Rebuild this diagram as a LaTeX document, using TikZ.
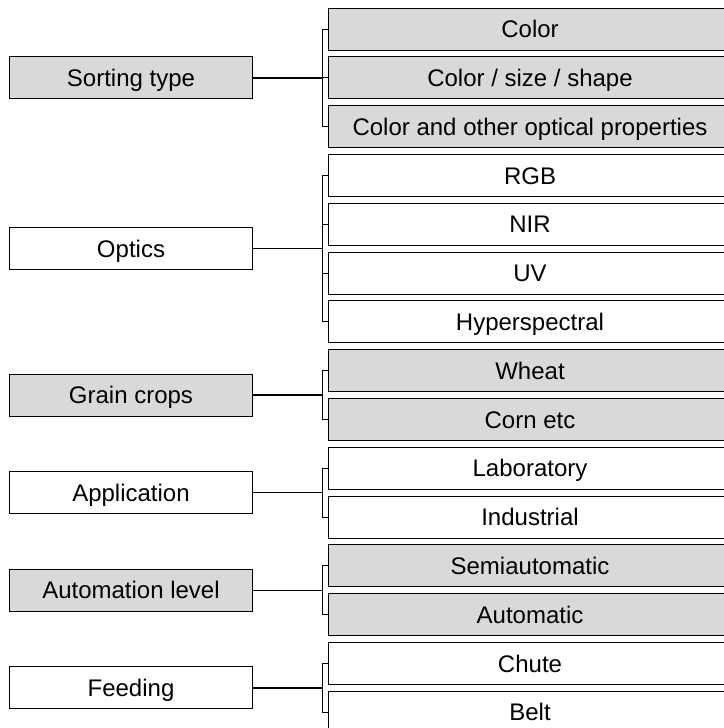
\documentclass[tikz,border=0pt]{standalone}
\usepackage{fontspec}
\setmainfont{Liberation Sans}
\definecolor{boxgray}{HTML}{D9D9D9}
\begin{document}
\begin{tikzpicture}[x=1pt,y=-1pt,
  every node/.style={font=\fontsize{24}{28}\selectfont, text height=17.2pt, text depth=0pt, inner sep=0pt},
  basebox/.style={draw=black, line width=1pt, rectangle, minimum height=42pt},
  lbox/.style={basebox, minimum width=243pt},
  rbox/.style={basebox, minimum width=404pt},
  gray/.style={fill=boxgray},
  white/.style={fill=white},
  mainline/.style={line width=1.4pt},
  brack/.style={line width=0.9pt}]
\useasboundingbox (0,0) rectangle (723,728);
\def\p{48.8}
% right boxes
\node[rbox,gray]  (r0)  at (530,{29+\p*0})  {Color};
\node[rbox,gray]  (r1)  at (530,{29+\p*1})  {Color / size / shape};
\node[rbox,gray]  (r2)  at (530,{29+\p*2})  {Color and other optical properties};
\node[rbox,white] (r3)  at (530,{29+\p*3})  {RGB};
\node[rbox,white] (r4)  at (530,{29+\p*4})  {NIR};
\node[rbox,white] (r5)  at (530,{29+\p*5})  {UV};
\node[rbox,white] (r6)  at (530,{29+\p*6})  {Hyperspectral};
\node[rbox,gray]  (r7)  at (530,{29+\p*7})  {Wheat};
\node[rbox,gray]  (r8)  at (530,{29+\p*8})  {Corn etc};
\node[rbox,white] (r9)  at (530,{29+\p*9})  {Laboratory};
\node[rbox,white] (r10) at (530,{29+\p*10}) {Industrial};
\node[rbox,gray]  (r11) at (530,{29+\p*11}) {Semiautomatic};
\node[rbox,gray]  (r12) at (530,{29+\p*12}) {Automatic};
\node[rbox,white] (r13) at (530,{29+\p*13}) {Chute};
\node[rbox,white] (r14) at (530,{29+\p*14}) {Belt};
% left boxes
\node[lbox,gray]  (sort) at (131,{29+\p*1}) {Sorting type};
\node[lbox,white] (opt)  at (131,{29+\p*4.5}) {Optics};
\node[lbox,gray]  (grain) at (131,{29+\p*7.5}) {Grain crops};
\node[lbox,white] (app)  at (131,{29+\p*9.5}) {Application};
\node[lbox,gray]  (auto) at (131,{29+\p*11.5}) {Automation level};
\node[lbox,white] (feed) at (131,{29+\p*13.5}) {Feeding};
\coordinate (bx) at (322,0);
% main connectors
\foreach \l in {sort,opt,grain,app,auto,feed}{
  \draw[mainline] (\l.east) -- (\l.east -| bx);
}
% brackets
\foreach \a/\b in {0/2,3/6,7/8,9/10,11/12,13/14}{
  \draw[brack] (r\a.west) -- (r\a.west -| bx) -- (r\b.west -| bx) -- (r\b.west);
}
\foreach \m in {1,4,5}{
  \draw[brack] (r\m.west) -- (r\m.west -| bx);
}
\end{tikzpicture}
\end{document}
